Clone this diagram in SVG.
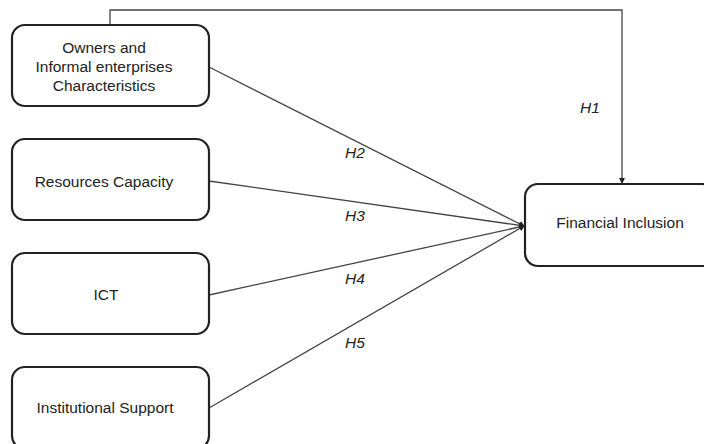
<svg xmlns="http://www.w3.org/2000/svg" width="704" height="444" viewBox="0 0 704 444">
<style>
.box{fill:#fff;stroke:#222;stroke-width:2.2}
.t{font-family:"Liberation Sans",Arial,sans-serif;font-size:15.5px;fill:#222;text-anchor:middle}
.h{font-family:"Liberation Sans",Arial,sans-serif;font-size:15.5px;font-style:italic;fill:#222;text-anchor:middle}
.ln{fill:none;stroke:#444;stroke-width:1.3}
</style>
<defs>
<marker id="ah" markerWidth="6" markerHeight="6" refX="5" refY="3" orient="auto" markerUnits="userSpaceOnUse">
<path d="M0,0 L6,3 L0,6 z" fill="#222"/>
</marker>
</defs>
<rect width="704" height="444" fill="#fff"/>
<g id="connectors">
<polyline class="ln" points="110,25 110,10 622,10 622,183" marker-end="url(#ah)"/>
<line class="ln" x1="209" y1="67" x2="524" y2="226" marker-end="url(#ah)"/>
<line class="ln" x1="209" y1="181" x2="524" y2="226" marker-end="url(#ah)"/>
<line class="ln" x1="209" y1="295" x2="524" y2="226" marker-end="url(#ah)"/>
<line class="ln" x1="209" y1="408" x2="524" y2="226" marker-end="url(#ah)"/>
<text class="h" x="590" y="113">H1</text>
<text class="h" x="355" y="158">H2</text>
<text class="h" x="355" y="221">H3</text>
<text class="h" x="355" y="284">H4</text>
<text class="h" x="355" y="348">H5</text>
</g>
<g id="owners">
<rect class="box" x="12" y="25" width="197" height="81" rx="13"/>
<text class="t" x="104" y="53">Owners and</text>
<text class="t" x="104" y="72">Informal enterprises</text>
<text class="t" x="104" y="91">Characteristics</text>
</g>
<g id="resources">
<rect class="box" x="12" y="139" width="197" height="81" rx="13"/>
<text class="t" x="104" y="187">Resources Capacity</text>
</g>
<g id="ict">
<rect class="box" x="12" y="253" width="197" height="81" rx="13"/>
<text class="t" x="106" y="300">ICT</text>
</g>
<g id="institutional">
<rect class="box" x="12" y="367" width="197" height="82" rx="13"/>
<text class="t" x="105" y="413">Institutional Support</text>
</g>
<g id="financial">
<rect class="box" x="525" y="184" width="190" height="82" rx="13"/>
<text class="t" x="620" y="228">Financial Inclusion</text>
</g>
</svg>
